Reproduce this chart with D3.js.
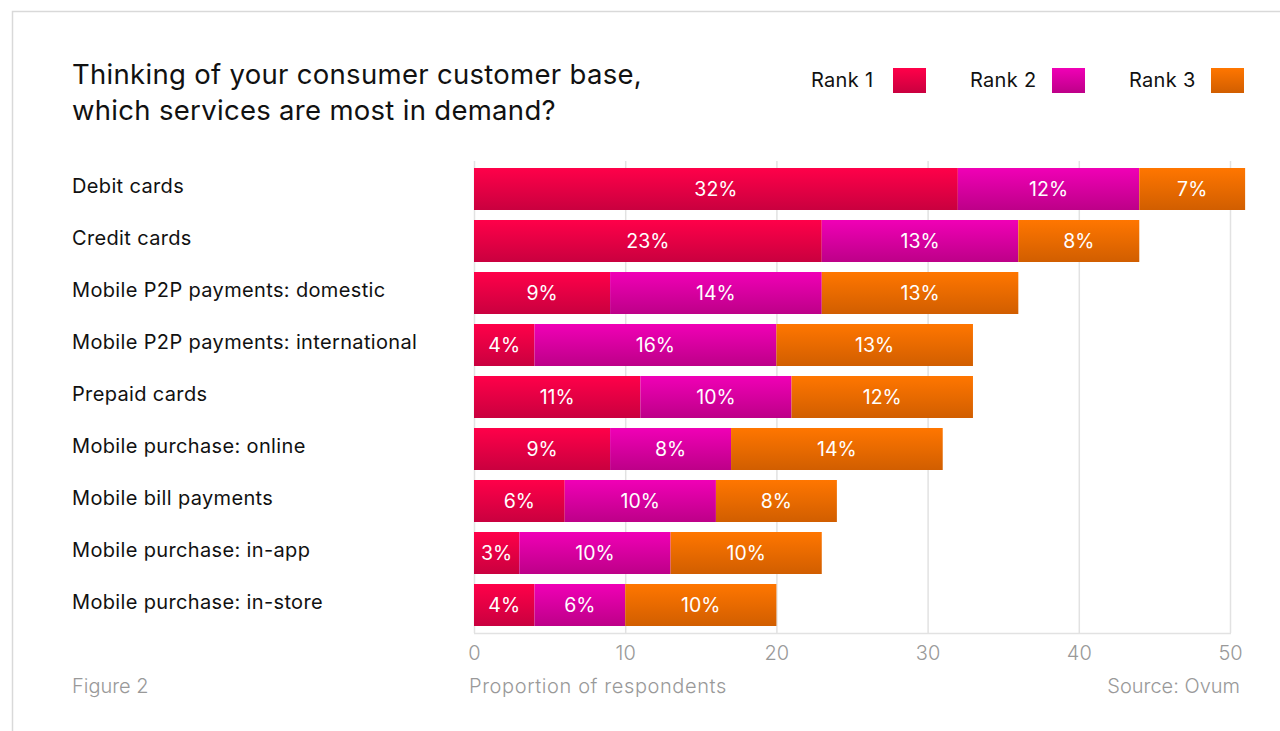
<!DOCTYPE html>
<html>
<head>
<meta charset="utf-8">
<script src="https://cdn.jsdelivr.net/npm/d3@7"></script>
<style>
  html, body { margin: 0; padding: 0; background: #fff; }
  svg { display: block; font-family: Inter, "Noto Sans", sans-serif; }
</style>
</head>
<body>
<svg id="chart" width="1280" height="731"></svg>
<script>
// Survey: which consumer services are most in demand (share of respondents)
const categories = [
  "Debit cards",
  "Credit cards",
  "Mobile P2P payments: domestic",
  "Mobile P2P payments: international",
  "Prepaid cards",
  "Mobile purchase: online",
  "Mobile bill payments",
  "Mobile purchase: in-app",
  "Mobile purchase: in-store"
];
const rank1 = [32, 23, 9, 4, 11, 9, 6, 3, 4];
const rank2 = [12, 13, 14, 16, 10, 8, 10, 10, 6];
const rank3 = [7, 8, 13, 13, 12, 14, 8, 10, 10];
const seriesNames = ["Rank 1", "Rank 2", "Rank 3"];
const xTicks = [0, 10, 20, 30, 40, 50];

const svg = d3.select("#chart");
const defs = svg.append("defs");

// vertical gradients: bright at the top, deeper at the bottom
const gradientStops = [
  ["#ff0049", "#c9003f"],
  ["#f000b6", "#bd0088"],
  ["#ff7600", "#d15e00"]
];
gradientStops.forEach((g, i) => {
  const lg = defs.append("linearGradient")
    .attr("id", "grad" + i).attr("x1", 0).attr("y1", 0).attr("x2", 0).attr("y2", 1);
  lg.append("stop").attr("offset", "0%").attr("stop-color", g[0]);
  lg.append("stop").attr("offset", "100%").attr("stop-color", g[1]);
});

// outer frame
svg.append("path")
  .attr("d", "M12.5,731 V11.5 H1280")
  .attr("fill", "none").attr("stroke", "#d9d9d9").attr("stroke-width", 1.5);

const plotLeft = 474, plotTop = 161, plotBottom = 633;
const x = d3.scaleLinear().domain([0, 50]).range([plotLeft, plotLeft + 756]);
const y = d3.scaleBand().domain(categories).range([163, 631])
  .paddingInner(10 / 52).paddingOuter(5 / 52);

// grid lines
svg.append("g").selectAll("line").data(xTicks).join("line")
  .attr("x1", d => x(d) + 0.5).attr("x2", d => x(d) + 0.5)
  .attr("y1", plotTop).attr("y2", plotBottom)
  .attr("stroke", "#e2e2e2").attr("stroke-width", 1.5);
svg.append("line")
  .attr("x1", plotLeft).attr("x2", x(50) + 1)
  .attr("y1", plotBottom + 0.5).attr("y2", plotBottom + 0.5)
  .attr("stroke", "#e2e2e2").attr("stroke-width", 1.5);

// x axis tick labels
const xAxis = d3.axisBottom(x).tickValues(xTicks).tickSize(0).tickPadding(0);
const ax = svg.append("g").attr("transform", `translate(0, ${plotBottom + 27})`).call(xAxis);
ax.select(".domain").remove();
ax.selectAll("text")
  .attr("dy", 0)
  .attr("font-size", 20).attr("fill", "#999").attr("font-family", "Inter, sans-serif")
  .attr("font-weight", 300);

// stacked bars
const rows = categories.map((c, i) => ({ cat: c, v: [rank1[i], rank2[i], rank3[i]] }));
const stack = d3.stack().keys([0, 1, 2]).value((d, k) => d.v[k]);
const layers = stack(rows);

layers.forEach((layer, k) => {
  const g = svg.append("g");
  g.selectAll("rect").data(layer).join("rect")
    .attr("x", d => x(d[0]))
    .attr("width", d => x(d[1]) - x(d[0]))
    .attr("y", d => y(d.data.cat))
    .attr("height", y.bandwidth())
    .attr("fill", `url(#grad${k})`);
  g.selectAll("text").data(layer).join("text")
    .attr("x", d => (x(d[0]) + x(d[1])) / 2)
    .attr("y", d => y(d.data.cat) + y.bandwidth() / 2 + 7)
    .attr("text-anchor", "middle")
    .attr("font-size", 19.5).attr("fill", "#fff")
    .text(d => d.data.v[k] + "%");
});

// category labels
svg.append("g").selectAll("text").data(categories).join("text")
  .attr("x", 72).attr("y", d => y(d) + 25)
  .attr("font-size", 20).attr("fill", "#111").attr("letter-spacing", 0.35)
  .text(d => d);

// title
const title = svg.append("text").attr("font-size", 27.5).attr("fill", "#111").attr("letter-spacing", 0.3);
title.append("tspan").attr("x", 72).attr("y", 84).text("Thinking of your consumer customer base,");
title.append("tspan").attr("x", 72).attr("y", 120).text("which services are most in demand?");

// legend
const legendX = [811, 970, 1129];
const legend = svg.append("g").selectAll("g").data(seriesNames).join("g");
legend.append("text")
  .attr("x", (d, i) => legendX[i]).attr("y", 87)
  .attr("font-size", 20).attr("fill", "#111").attr("letter-spacing", 0.3)
  .text(d => d);
legend.append("rect")
  .attr("x", (d, i) => legendX[i] + 82).attr("y", 68)
  .attr("width", 33).attr("height", 25)
  .attr("fill", (d, i) => `url(#grad${i})`);

// footer
const foot = svg.append("g").attr("font-size", 20).attr("fill", "#999").attr("font-weight", 300);
foot.append("text").attr("x", 72).attr("y", 693).text("Figure 2");
foot.append("text").attr("x", 469).attr("y", 693).attr("letter-spacing", 0.6).text("Proportion of respondents");
foot.append("text").attr("x", 1240).attr("y", 693).attr("text-anchor", "end").text("Source: Ovum");
</script>
</body>
</html>
